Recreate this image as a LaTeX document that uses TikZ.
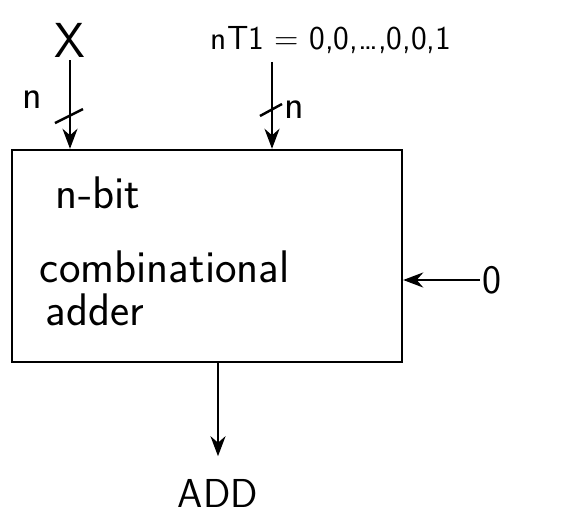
\documentclass[tikz,border=0pt]{standalone}
\usepackage{amsmath}
\usepackage{tikz}
\usetikzlibrary{arrows.meta,calc}

\begin{document}
\begin{tikzpicture}[x=0.02cm,y=-0.02cm,line width=1.4pt,
  font=\sffamily\fontsize{23}{27}\selectfont,
  seta/.style={-{Stealth[length=4mm,width=3mm]}},
  rotulo/.style={inner sep=1pt},
  texto/.style={inner sep=1pt,anchor=west,font=\sffamily\fontsize{26}{30}\selectfont}]
\useasboundingbox (0,0) rectangle (573,520);
% Bloco
\node[draw,minimum width=7.8cm,minimum height=4.24cm,inner sep=0pt] (caixa) at (207,256) {};
\node[texto] (t1) at (53,193) {n-bit};
\node[texto] (t2) at (37,267) {combinational};
\node[texto] (t3) at (43,310) {adder};
% Entradas
\node[rotulo,font=\sffamily\fontsize{28}{32}\selectfont] (x) at (70,40) {X};
\draw[seta] (x.south) -- (x.south |- caixa.north);
\draw (x.south) ++(-15,63) -- ++(28,-14); % barra
\node[rotulo] (n1) at (32,100) {n};
\node[rotulo,anchor=west,font=\sffamily\fontsize{19}{23}\selectfont] (nt) at (208,40) {nT1 = 0,0,\ldots,0,0,1};
\coordinate (e2) at (272,62);
\draw[seta] (e2) -- (e2 |- caixa.north);
\draw (e2) ++(-12,54) -- ++(22,-12); % barra
\node[rotulo] (n2) at (294,110) {n};
\node[rotulo] (zero) at (492,280) {0};
\draw[seta] (zero.west) -- (zero.west -| caixa.east);
% Saida
\node[rotulo] (add) at (218,493) {ADD};
\draw[seta] (add.north |- caixa.south) -- ++(0,93);
\end{tikzpicture}
\end{document}
